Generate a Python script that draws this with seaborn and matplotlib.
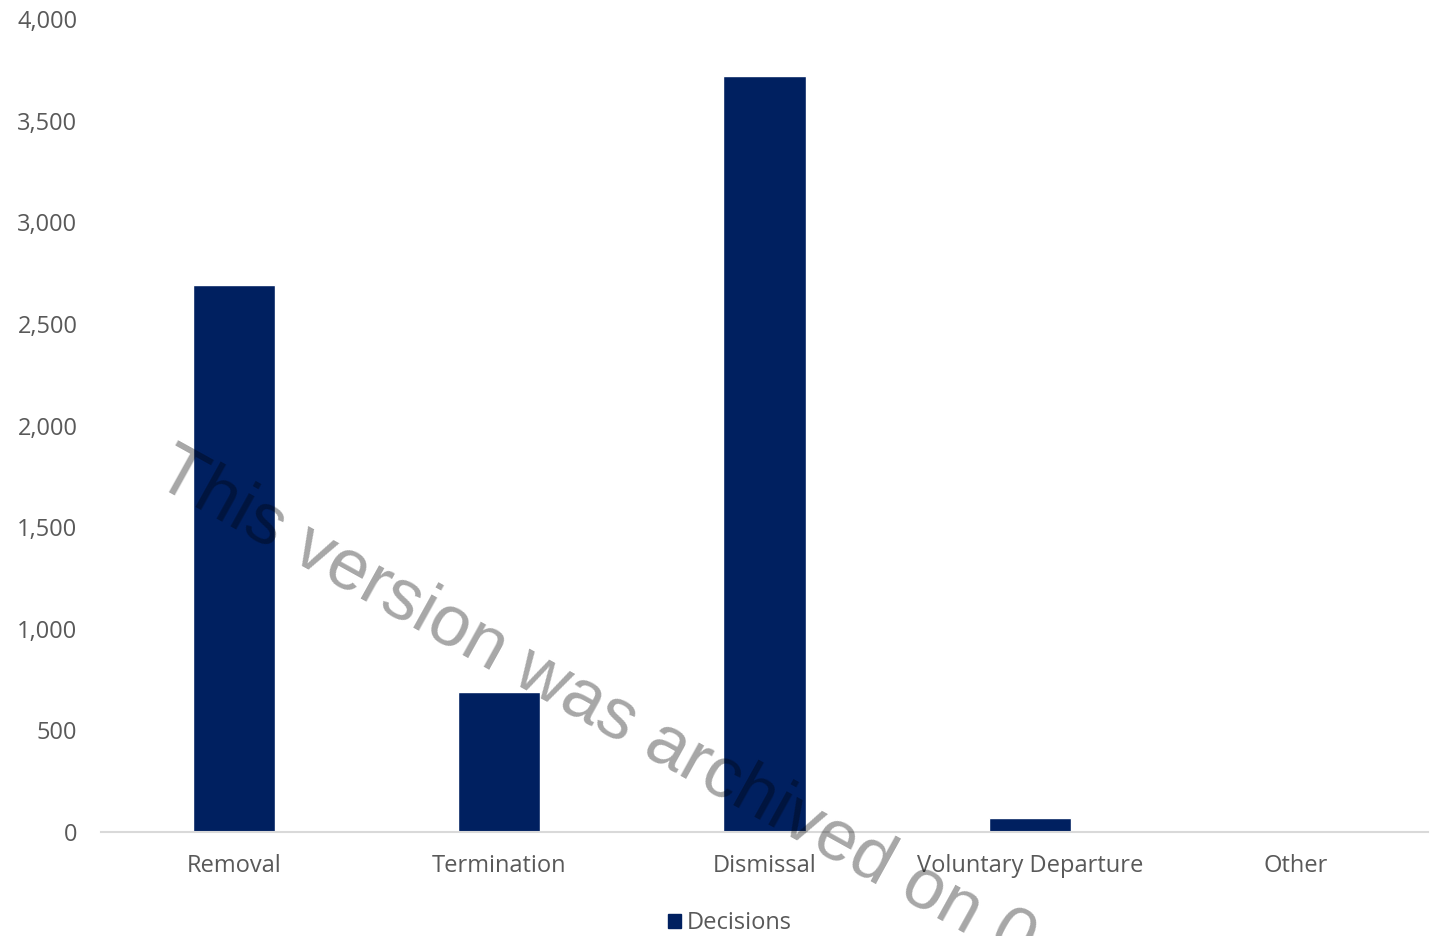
"""
Decisions by outcome type - bar chart
"""
import pandas as pd
import matplotlib
matplotlib.use('Agg')
import matplotlib.pyplot as plt
import seaborn as sns
from matplotlib.ticker import FuncFormatter

# data
categories = ['Removal', 'Termination', 'Dismissal', 'Voluntary Departure', 'Other']
decisions = [2690, 690, 3718, 70, 0]
y_ticks = [0, 500, 1000, 1500, 2000, 2500, 3000, 3500, 4000]
series_name = 'Decisions'
watermark = 'This version was archived on 0'

BAR_COLOR = '#002060'
TEXT_COLOR = '#595959'

sns.set_theme(style='white')
plt.rcParams['font.family'] = ['Open Sans', 'DejaVu Sans']

df = pd.DataFrame({'type': categories, 'count': decisions, 'series': series_name})

fig = plt.figure(figsize=(14.39, 9.36), dpi=100)
ax = fig.add_axes([0.0702, 0.1111, 0.9222, 0.8686])

sns.barplot(data=df, x='type', y='count', hue='series', palette=[BAR_COLOR],
            width=0.31, saturation=1, ax=ax, legend=False)

ax.set_ylim(0, 4000)
ax.set_xlim(-0.5, len(categories) - 0.5)
ax.set_yticks(y_ticks)
ax.yaxis.set_major_formatter(FuncFormatter(lambda v, p: f'{int(v):,}'))
ax.set_xlabel('')
ax.set_ylabel('')
ax.tick_params(axis='both', length=0, labelsize=17, colors=TEXT_COLOR)
ax.tick_params(axis='y', pad=17)
ax.tick_params(axis='x', pad=16)

for side in ['top', 'right', 'left']:
    ax.spines[side].set_visible(False)
ax.spines['bottom'].set_color('#d9d9d9')
ax.spines['bottom'].set_linewidth(1.5)

# legend at the bottom
handle = plt.Rectangle((0, 0), 1, 1, color=BAR_COLOR)
fig.legend([handle], [series_name], loc='lower center', bbox_to_anchor=(0.507, -0.022),
           frameon=False, fontsize=17, labelcolor=TEXT_COLOR,
           handlelength=0.55, handleheight=0.55, handletextpad=0.25)

# archive watermark over the chart
fig.text(0.106, 0.484, watermark, rotation=-29, rotation_mode='anchor',
         ha='left', va='baseline', fontsize=52, color='black', alpha=0.35,
         family='Liberation Sans')

fig.savefig('out.png', dpi=100)
plt.close(fig)
